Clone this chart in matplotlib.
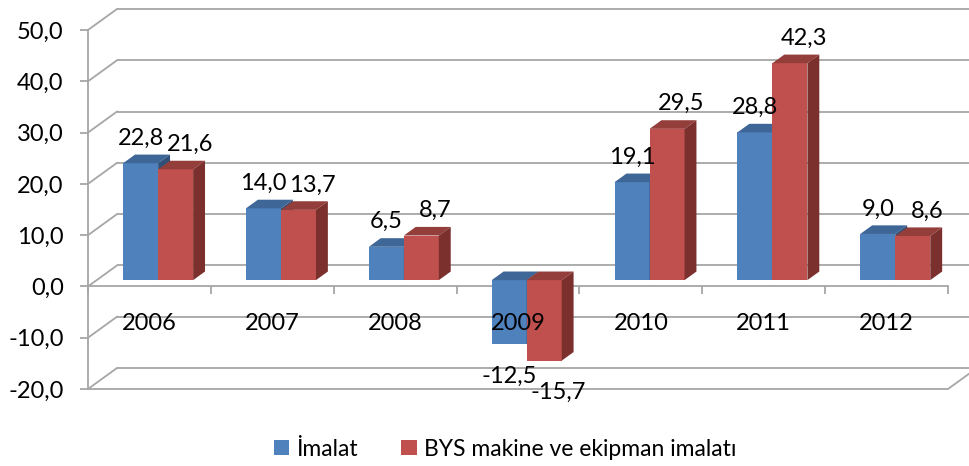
import matplotlib
matplotlib.use("Agg")
import matplotlib.pyplot as plt
from matplotlib.patches import Polygon, Patch

years = ["2006", "2007", "2008", "2009", "2010", "2011", "2012"]
imalat = [22.8, 14.0, 6.5, -12.5, 19.1, 28.8, 9.0]
bys = [21.6, 13.7, 8.7, -15.7, 29.5, 42.3, 8.6]
series_names = ["İmalat", "BYS makine ve ekipman imalatı"]
y_ticks = [-20, -10, 0, 10, 20, 30, 40, 50]

FRONT = ["#4F81BD", "#C0504D"]
TOP = ["#3E6696", "#943E3B"]
SIDE = ["#2F5079", "#7B302E"]
GRID = "#A6A6A6"

plt.rcParams["font.family"] = ["Lato", "DejaVu Sans"]
FS = 17


def fmt(v):
    return f"{v:.1f}".replace(".", ",")


def main():
    W, H = 970, 466
    fig = plt.figure(figsize=(W / 100, H / 100), dpi=100)
    ax = fig.add_axes([88 / W, (H - 389) / H, 860 / W, 359 / H])
    n = len(years)
    ax.set_xlim(-0.5, n - 0.5)
    ax.set_ylim(y_ticks[0], y_ticks[-1])

    # pixels per data unit
    px_x = 860 / n
    px_y = 359 / (y_ticks[-1] - y_ticks[0])
    # full depth of the 3d box, in data units
    DX, DY = 29 / px_x, 21 / px_y
    # bars sit between 30% and 71% of the depth
    fx, fy = 0.30 * DX, 0.30 * DY
    bdx, bdy = 0.41 * DX, 0.41 * DY
    w = 35 / px_x

    # back wall + left wall
    x0, x1 = -0.5, n - 0.5
    for v in y_ticks:
        ax.plot([x0 + DX, x1 + DX + 1], [v + DY, v + DY], color=GRID,
                lw=1.3, clip_on=False, zorder=1, solid_capstyle="butt")
        ax.plot([x0, x0 + DX], [v, v + DY], color=GRID, lw=1.3,
                clip_on=False, zorder=1)
    # floor edge and front value axis
    ymin = y_ticks[0]
    ax.plot([x0, x1, x1 + DX], [ymin, ymin, ymin + DY], color=GRID, lw=1.3,
            clip_on=False, zorder=1)
    ax.plot([x0, x0], [y_ticks[0], y_ticks[-1]], color=GRID, lw=1.3,
            clip_on=False, zorder=1)

    for s in ax.spines.values():
        s.set_visible(False)
    ax.spines["bottom"].set_visible(True)
    ax.spines["bottom"].set_position(("data", 0))
    ax.spines["bottom"].set_color(GRID)
    ax.spines["bottom"].set_linewidth(1.3)
    ax.spines["bottom"].set_zorder(1)
    ax.set_xticks([i - 0.5 for i in range(n + 1)])
    ax.set_xticklabels([])
    ax.tick_params(axis="x", direction="out", length=5.5, width=1.3,
                   color=GRID)
    ax.set_yticks(y_ticks)
    ax.set_yticklabels([fmt(v) for v in y_ticks], fontsize=FS)
    ax.tick_params(axis="y", direction="out", length=5.5, width=1.3,
                   color=GRID, pad=12)
    ax.patch.set_visible(False)

    z = 3
    for i in range(n):
        for s, vals in enumerate([imalat, bys]):
            v = vals[i]
            xl = i - w + s * w + fx
            ax.bar(xl, v, width=w, bottom=fy, align="edge", color=FRONT[s],
                   zorder=z, linewidth=0)
            top = fy + max(v, 0)
            low = fy + min(v, 0)
            ax.add_patch(Polygon([(xl, top), (xl + w, top),
                                  (xl + w + bdx, top + bdy),
                                  (xl + bdx, top + bdy)],
                                 closed=True, color=TOP[s], lw=0, zorder=z))
            ax.add_patch(Polygon([(xl + w, low), (xl + w, top),
                                  (xl + w + bdx, top + bdy),
                                  (xl + w + bdx, low + bdy)],
                                 closed=True, color=SIDE[s], lw=0, zorder=z))
            z += 1
            dxp = 14 if s == 1 else 0
            dyp = 25 if v >= 0 else -32
            ax.annotate(fmt(v), (xl + w / 2, fy + v),
                        xytext=(dxp * 0.72, dyp * 0.72),
                        textcoords="offset points", ha="center", va="center",
                        fontsize=FS, zorder=20, annotation_clip=False)
        ax.annotate(years[i], (i, 0), xytext=(0, -37 * 0.72),
                    textcoords="offset points", ha="center", va="center",
                    fontsize=FS, zorder=20)

    handles = [Patch(facecolor=FRONT[0], label=series_names[0]),
               Patch(facecolor=FRONT[1], label=series_names[1])]
    fig.legend(handles=handles, loc="center", ncol=2, frameon=False,
               bbox_to_anchor=(505 / W, 1 - 449 / H), fontsize=16.5,
               handlelength=0.68, handleheight=0.68, handletextpad=0.3,
               columnspacing=1.9)

    fig.savefig("out.png", dpi=100)


if __name__ == "__main__":
    main()
